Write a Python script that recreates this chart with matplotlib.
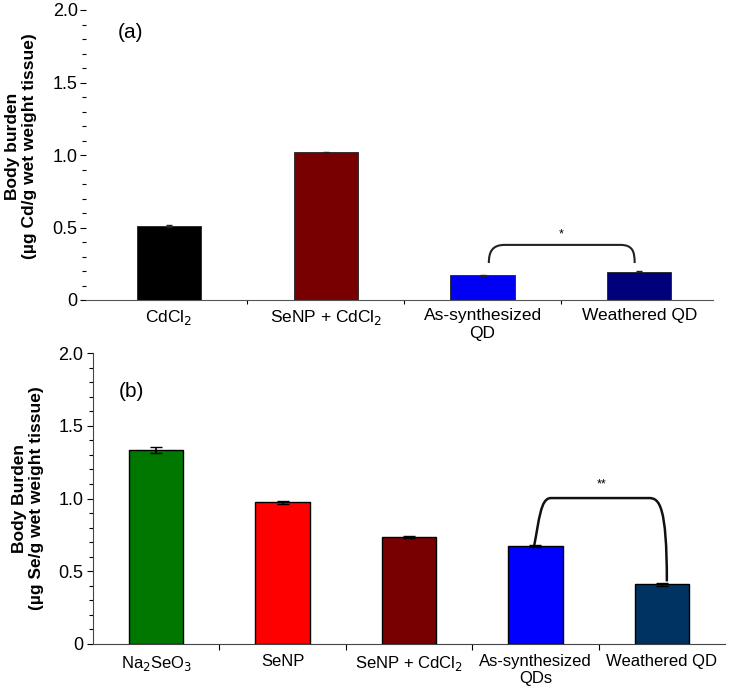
import numpy as np
import matplotlib
matplotlib.use("Agg")
import matplotlib.pyplot as plt
from matplotlib.path import Path
from matplotlib.patches import PathPatch
from matplotlib.ticker import MultipleLocator, FixedLocator

plt.rcParams['font.family'] = ['Liberation Sans', 'DejaVu Sans']

# panel (a): Cd body burden
cats_a = ['CdCl$_2$', 'SeNP + CdCl$_2$', 'As-synthesized\nQD', 'Weathered QD']
vals_a = [0.51, 1.02, 0.17, 0.195]
err_a = [0.004, 0.004, 0.002, 0.002]
cols_a = ['#000000', '#780000', '#0000f5', '#00007a']

# panel (b): Se body burden
cats_b = ['Na$_2$SeO$_3$', 'SeNP', 'SeNP + CdCl$_2$', 'As-synthesized\nQDs', 'Weathered QD']
vals_b = [1.335, 0.975, 0.735, 0.672, 0.41]
err_b = [0.02, 0.01, 0.008, 0.005, 0.012]
cols_b = ['#007800', '#ff0000', '#780000', '#0000ff', '#003262']

W, H = 750, 697
fig = plt.figure(figsize=(W / 100, H / 100), dpi=100)

def box(l, t, r, b):
    return [l / W, 1 - b / H, (r - l) / W, (b - t) / H]

# ---- top panel
ax1 = fig.add_axes(box(86, 10, 713, 300))
x = np.arange(len(cats_a))
ax1.bar(x, vals_a, width=0.41, color=cols_a, edgecolor='#222222', linewidth=0.6)
ax1.errorbar(x, vals_a, yerr=err_a, fmt='none', ecolor='#222222', capsize=2, lw=0.6)
ax1.set_xlim(-0.53, 3.47)
ax1.set_ylim(0, 2.0)
for s in ['top', 'right', 'left']:
    ax1.spines[s].set_visible(False)
ax1.spines['bottom'].set_color('#555555')
ax1.yaxis.set_minor_locator(MultipleLocator(0.1))
ax1.set_yticks([0, 0.5, 1.0, 1.5, 2.0], ['0', '0.5', '1.0', '1.5', '2.0'])
ax1.tick_params(axis='y', which='major', length=4, width=0.8, labelsize=13, pad=2)
ax1.tick_params(axis='y', which='minor', length=3, width=0.8)
ax1.set_xticks(x, cats_a)
ax1.tick_params(axis='x', which='major', length=0, labelsize=12.5, pad=6)
ax1.xaxis.set_minor_locator(FixedLocator([0.5, 1.5, 2.5]))
ax1.tick_params(axis='x', which='minor', length=3, width=0.8)
ax1.set_ylabel('Body burden\n(\u00b5g Cd/g wet weight tissue)', fontsize=12.5,
               fontweight='bold', labelpad=8)
ax1.yaxis.set_label_coords(-0.078, 0.53)
ax1.text(0.05, 0.905, '(a)', transform=ax1.transAxes, fontsize=15)

# bracket (a)
verts = [(2.04, 0.255), (2.04, 0.33), (2.06, 0.38), (2.14, 0.38),
         (2.88, 0.38), (2.96, 0.38), (2.97, 0.33), (2.97, 0.255)]
codes = [Path.MOVETO, Path.CURVE4, Path.CURVE4, Path.CURVE4,
         Path.LINETO, Path.CURVE4, Path.CURVE4, Path.CURVE4]
ax1.add_patch(PathPatch(Path(verts, codes), fill=False, lw=1.5, ec='#222222'))
ax1.text(2.5, 0.45, '*', ha='center', va='center', fontsize=9)

# ---- bottom panel
ax2 = fig.add_axes(box(93, 353, 725, 644))
x2 = np.arange(len(cats_b))
ax2.bar(x2, vals_b, width=0.43, color=cols_b, edgecolor='black', linewidth=1.0)
ax2.errorbar(x2, vals_b, yerr=err_b, fmt='none', ecolor='black', capsize=4, lw=1.2)
ax2.set_xlim(-0.5, 4.5)
ax2.set_ylim(0, 2.0)
for s in ['top', 'right']:
    ax2.spines[s].set_visible(False)
ax2.spines['left'].set_color('#444444')
ax2.spines['bottom'].set_color('#444444')
ax2.yaxis.set_minor_locator(MultipleLocator(0.1))
ax2.set_yticks([0, 0.5, 1.0, 1.5, 2.0], ['0', '0.5', '1.0', '1.5', '2.0'])
ax2.tick_params(axis='y', which='major', length=4, width=0.8, labelsize=13, pad=3)
ax2.tick_params(axis='y', which='minor', length=3, width=0.8)
ax2.set_xticks(x2, cats_b)
ax2.tick_params(axis='x', which='major', length=0, labelsize=12, pad=7)
ax2.xaxis.set_minor_locator(FixedLocator([0.5, 1.5, 2.5, 3.5]))
ax2.tick_params(axis='x', which='minor', length=4, width=0.8)
ax2.set_ylabel('Body Burden\n(\u00b5g Se/g wet weight tissue)', fontsize=12.5,
               fontweight='bold', labelpad=10)
ax2.text(0.04, 0.85, '(b)', transform=ax2.transAxes, fontsize=15)

# bracket (b)
verts = [(2.99, 0.675), (3.03, 0.85), (3.04, 1.0), (3.12, 1.003),
         (3.9, 1.003), (3.98, 1.003), (4.04, 0.95), (4.04, 0.43)]
codes = [Path.MOVETO, Path.CURVE4, Path.CURVE4, Path.CURVE4,
         Path.LINETO, Path.CURVE4, Path.CURVE4, Path.CURVE4]
ax2.add_patch(PathPatch(Path(verts, codes), fill=False, lw=1.8, ec='#111111'))
ax2.text(3.52, 1.1, '**', ha='center', va='center', fontsize=9)

fig.savefig('out.png', dpi=100)
